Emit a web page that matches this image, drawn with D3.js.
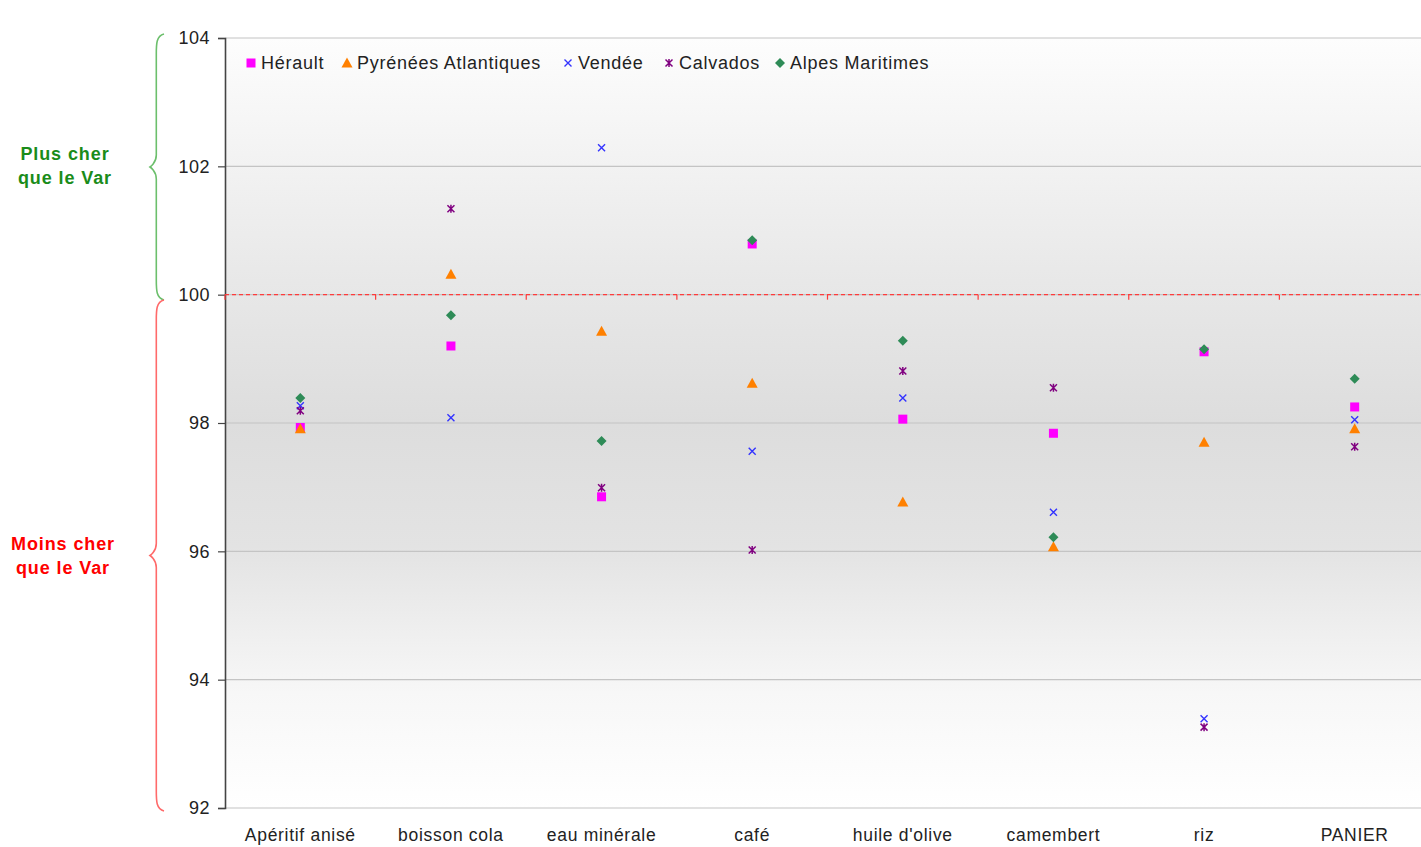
<!DOCTYPE html>
<html>
<head>
<meta charset="utf-8">
<script src="https://cdn.jsdelivr.net/npm/d3@7"></script>
<style>
  body { margin: 0; background: #fff; }
  text { font-family: "Liberation Sans", Arial, sans-serif; }
</style>
</head>
<body>
<div id="chart"></div>
<script>
// Price index vs the Var (Var = 100)
const categories = ['Apéritif anisé', 'boisson cola', 'eau minérale', 'café', "huile d'olive", 'camembert', 'riz', 'PANIER'];
const seriesNames = ['Hérault', 'Pyrénées Atlantiques', 'Vendée', 'Calvados', 'Alpes Maritimes'];
const herault  = [97.93, 99.20, 96.85, 100.79, 98.06, 97.84, 99.11, 98.25];
const pyrenees = [97.91, 100.32, 99.43, 98.62, 96.77, 96.07, 97.70, 97.91];
const vendee   = [98.27, 98.08, 102.29, 97.56, 98.39, 96.61, 93.39, 98.05];
const calvados = [98.19, 101.34, 96.99, 96.02, 98.81, 98.55, 93.26, 97.63];
const alpes    = [98.39, 99.68, 97.72, 100.85, 99.28, 96.22, 99.15, 98.69];
const yTicks = [92, 94, 96, 98, 100, 102, 104];

const seriesValues = [herault, pyrenees, vendee, calvados, alpes];
const seriesColors = ['#ff00ff', '#ff8000', '#3333ff', '#800080', '#2e8b57'];
const seriesShapes = ['square', 'triangle', 'cross', 'star', 'diamond'];

const W = 1421, H = 847;
const plotLeft = 225, plotRight = 1430, plotTop = 38, plotBottom = 808;

const svg = d3.select('#chart').append('svg')
    .attr('width', W)
    .attr('height', H);

const x = d3.scaleBand().domain(categories).range([plotLeft, plotRight]);
const y = d3.scaleLinear().domain([92, 104]).range([plotBottom, plotTop]);

// background gradient
const defs = svg.append('defs');
const grad = defs.append('linearGradient')
    .attr('id', 'bg').attr('x1', 0).attr('y1', 0).attr('x2', 0).attr('y2', 1);
[[0, '#fdfdfd'], [0.3, '#e9e9e9'], [0.5, '#dddddd'], [0.66, '#e3e3e3'], [0.85, '#f7f7f7'], [1, '#ffffff']]
    .forEach(s => grad.append('stop').attr('offset', s[0]).attr('stop-color', s[1]));

svg.append('rect')
    .attr('x', plotLeft).attr('y', plotTop)
    .attr('width', plotRight - plotLeft).attr('height', plotBottom - plotTop)
    .attr('fill', 'url(#bg)');

// gridlines
svg.append('g').selectAll('line')
    .data(yTicks)
    .join('line')
    .attr('x1', plotLeft).attr('x2', plotRight)
    .attr('y1', d => y(d)).attr('y2', d => y(d))
    .attr('stroke', '#c4c4c4')
    .attr('stroke-width', 1.2);

// y axis
const yAxis = svg.append('g')
    .attr('transform', `translate(${plotLeft},0)`)
    .call(d3.axisLeft(y).tickValues(yTicks).tickSize(7).tickPadding(8).tickFormat(d3.format('d')));
yAxis.select('.domain').attr('stroke', '#444').attr('stroke-width', 1.6);
yAxis.selectAll('.tick line').attr('stroke', '#444').attr('stroke-width', 1.2);
yAxis.selectAll('.tick text')
    .attr('fill', '#222')
    .style('font-size', '18px')
    .style('letter-spacing', '0.5px')
    .style('font-family', '"Liberation Sans", Arial, sans-serif');

// x axis crossing at 100 (red dashed)
svg.append('line')
    .attr('x1', plotLeft).attr('x2', plotRight)
    .attr('y1', y(100)).attr('y2', y(100))
    .attr('stroke', '#ff3b3b')
    .attr('stroke-width', 1.3)
    .attr('stroke-dasharray', '4,3');

svg.append('g').selectAll('line')
    .data(categories)
    .join('line')
    .attr('x1', d => x(d)).attr('x2', d => x(d))
    .attr('y1', y(100)).attr('y2', y(100) + 5)
    .attr('stroke', '#ff3b3b')
    .attr('stroke-width', 1.2);

// category labels at the bottom
svg.append('g').selectAll('text')
    .data(categories)
    .join('text')
    .attr('x', d => x(d) + x.bandwidth() / 2)
    .attr('y', 841)
    .attr('text-anchor', 'middle')
    .attr('fill', '#222')
    .style('font-size', '17.5px')
    .style('letter-spacing', '0.7px')
    .text(d => d);

// marker drawing
function drawMarker(g, shape, color, cx, cy) {
    if (shape === 'square') {
        g.append('rect')
            .attr('x', cx - 4.5).attr('y', cy - 4.5)
            .attr('width', 9).attr('height', 9)
            .attr('fill', color);
    } else if (shape === 'triangle') {
        g.append('path')
            .attr('d', `M${cx},${cy - 5.5}L${cx + 5.5},${cy + 4.5}L${cx - 5.5},${cy + 4.5}Z`)
            .attr('fill', color);
    } else if (shape === 'diamond') {
        g.append('path')
            .attr('d', `M${cx},${cy - 5}L${cx + 5},${cy}L${cx},${cy + 5}L${cx - 5},${cy}Z`)
            .attr('fill', color);
    } else if (shape === 'cross') {
        g.append('path')
            .attr('d', `M${cx - 3.5},${cy - 3.5}L${cx + 3.5},${cy + 3.5}M${cx + 3.5},${cy - 3.5}L${cx - 3.5},${cy + 3.5}`)
            .attr('stroke', color).attr('stroke-width', 1.4).attr('fill', 'none');
    } else if (shape === 'star') {
        g.append('path')
            .attr('d', `M${cx - 3.5},${cy - 3.5}L${cx + 3.5},${cy + 3.5}M${cx + 3.5},${cy - 3.5}L${cx - 3.5},${cy + 3.5}` +
                       `M${cx},${cy - 4}L${cx},${cy + 4}`)
            .attr('stroke', color).attr('stroke-width', 1.5).attr('fill', 'none');
    }
}

// points
seriesValues.forEach((vals, si) => {
    const g = svg.append('g').attr('class', 'series');
    vals.forEach((v, ci) => {
        drawMarker(g, seriesShapes[si], seriesColors[si],
            x(categories[ci]) + x.bandwidth() / 2, y(v));
    });
});

// legend
const legendX = [251, 347, 568, 669, 780];
const legend = svg.append('g');
seriesNames.forEach((name, i) => {
    drawMarker(legend, seriesShapes[i], seriesColors[i], legendX[i], 63);
    legend.append('text')
        .attr('x', legendX[i] + 10)
        .attr('y', 69)
        .attr('fill', '#222')
        .style('font-size', '18px')
        .style('letter-spacing', '0.75px')
        .text(name);
});

// braces on the left
function brace(x0, top, bottom, depth) {
    const mid = (top + bottom) / 2;
    const xi = x0 - depth * 0.55, xp = x0 - depth;
    return `M${x0},${top} C${xi},${top + 2} ${xi},${top + 10} ${xi},${top + 20}` +
           ` L${xi},${mid - 12} C${xi},${mid - 4} ${xp},${mid} ${xp},${mid}` +
           ` C${xp},${mid} ${xi},${mid + 4} ${xi},${mid + 12}` +
           ` L${xi},${bottom - 20} C${xi},${bottom - 10} ${xi},${bottom - 2} ${x0},${bottom}`;
}

svg.append('path')
    .attr('d', brace(164, 34, 300, 14))
    .attr('fill', 'none').attr('stroke', '#6cbf6c').attr('stroke-width', 1.6);
svg.append('path')
    .attr('d', brace(164, 300, 811, 14))
    .attr('fill', 'none').attr('stroke', '#ff6a6a').attr('stroke-width', 1.6);

const notes = [
    {lines: ['Plus cher', 'que le Var'], cx: 65, y0: 160, color: '#1a8c1a'},
    {lines: ['Moins cher', 'que le Var'], cx: 63, y0: 550, color: '#ff0000'}
];
notes.forEach(n => {
    n.lines.forEach((t, i) => {
        svg.append('text')
            .attr('x', n.cx)
            .attr('y', n.y0 + i * 24)
            .attr('text-anchor', 'middle')
            .attr('fill', n.color)
            .style('font-size', '18px')
            .style('font-weight', 'bold')
            .style('letter-spacing', '0.9px')
            .text(t);
    });
});
</script>
</body>
</html>
